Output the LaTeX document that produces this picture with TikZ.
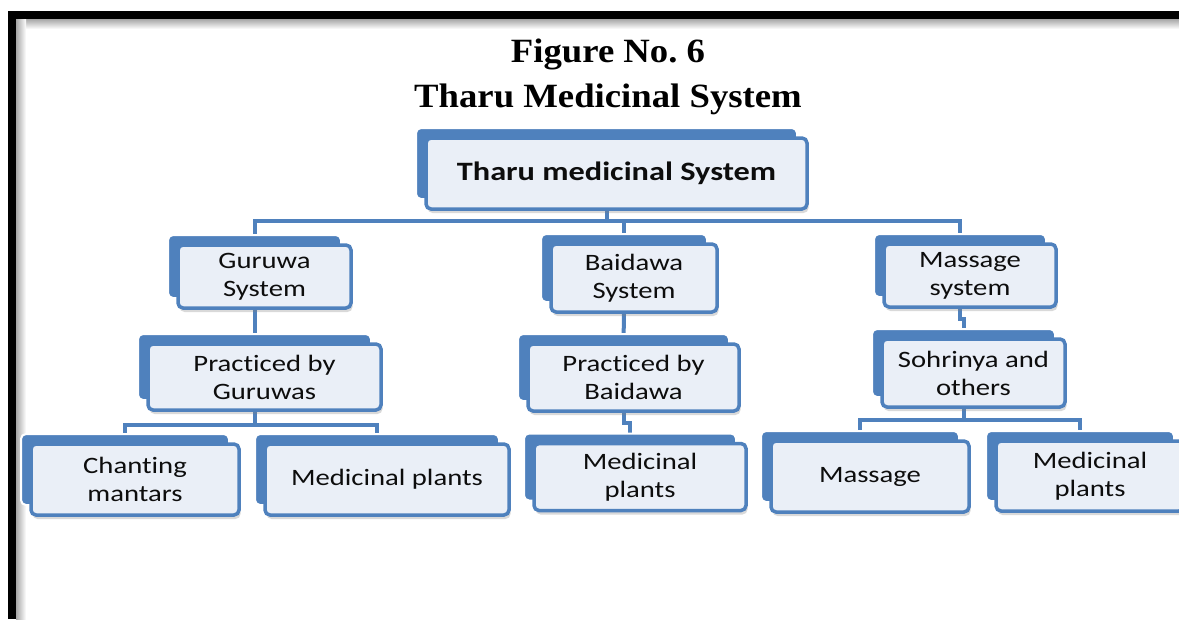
\documentclass[tikz,border=0pt]{standalone}
\usepackage{fontspec}
\setmainfont{Liberation Serif}
\newfontfamily\cardfont[FakeStretch=1.22, Ligatures=NoCommon]{Carlito}
\newfontfamily\headfont[FakeStretch=1.08]{Liberation Serif}
\usetikzlibrary{shadows,backgrounds}
\definecolor{CardBlue}{HTML}{4F81BD}
\definecolor{CardFill}{HTML}{EAEFF7}
\definecolor{CardInk}{HTML}{0D0D0D}

\begin{document}
\begin{tikzpicture}[x=1pt, y=1pt,
  card/.style={rounded corners=5pt, draw=CardBlue, line width=3.5pt, fill=CardFill,
               preaction={fill=CardBlue, draw=white, line width=2pt,
                          transform canvas={shift={(-10pt,10pt)}}},
               drop shadow={shadow xshift=1.5pt, shadow yshift=-4pt, opacity=0.3},
               align=center, inner sep=2pt, text=CardInk,
               font=\cardfont\fontsize{23.5}{28}\selectfont},
  link/.style={draw=CardBlue, line width=4pt}]
  \useasboundingbox (0,0) rectangle (1179,-619);
  % frame
  \fill[black] (8,-11) rectangle (16,-619);
  \fill[black] (8,-11) rectangle (1179,-19);
  \shade[top color=black!35, bottom color=white] (16,-19) rectangle (1179,-29);
  \shade[left color=black!35, right color=white] (16,-19) rectangle (26,-619);
  \node[font=\headfont\bfseries\fontsize{34}{45}\selectfont, align=center] (title)
       at (608,-77) {Figure No.\ 6\\Tharu Medicinal System};
  \node[card, minimum width=381pt, minimum height=71pt,
        font=\cardfont\bfseries\fontsize{26.5}{32}\selectfont] (root)
       at (616.5,-173.5) {Tharu medicinal System};
  \node[card, minimum width=173pt, minimum height=63pt] (guruwa) at (264.5,-276.5) {Guruwa\\System};
  \node[card, minimum width=166pt, minimum height=68pt] (baidawa) at (634,-278) {Baidawa\\System};
  \node[card, minimum width=172pt, minimum height=63pt] (massagesys) at (970,-275.5) {Massage\\system};
  \node[card, minimum width=233pt, minimum height=66pt] (guruwas) at (264.5,-377) {Practiced by\\Guruwas};
  \node[card, minimum width=211pt, minimum height=67pt] (baidawas) at (633.5,-377.5) {Practiced by\\Baidawa};
  \node[card, minimum width=183pt, minimum height=68pt] (sohrinya) at (973.5,-373) {Sohrinya and\\others};
  \node[card, minimum width=208pt, minimum height=71pt] (chanting) at (135,-479.5) {Chanting\\mantars};
  \node[card, minimum width=244pt, minimum height=71pt] (plantsa) at (387,-479.5) {Medicinal plants};
  \node[card, minimum width=212pt, minimum height=67pt] (plantsb) at (640,-477) {Medicinal\\plants};
  \node[card, minimum width=198pt, minimum height=71pt] (massage) at (870,-476.5) {Massage};
  \node[card, minimum width=188pt, minimum height=70pt] (plantsc) at (1090,-476) {Medicinal\\plants};
  % connectors
  \begin{pgfonlayer}{background}
    \draw[link] ([xshift=-10pt]root.south) -- ++(0,-10) -| ([xshift=-10pt]guruwa.north);
    \draw[link] ([xshift=-10pt]root.south) -- ++(0,-10) -| ([xshift=-10pt]baidawa.north);
    \draw[link] ([xshift=-10pt]root.south) -- ++(0,-10) -| ([xshift=-10pt]massagesys.north);
    \draw[link] ([xshift=-10pt]guruwa.south) -- ([xshift=-10pt]guruwas.north);
    \draw[link] ([xshift=-10pt]baidawa.south) -- ([xshift=-10pt]baidawas.north);
    \draw[link] ([xshift=-10pt]massagesys.south) -- ++(0,-10) -| ([xshift=-10pt]sohrinya.north);
    \draw[link] ([xshift=-10pt]guruwas.south) -- ++(0,-13) -| ([xshift=-10pt]chanting.north);
    \draw[link] ([xshift=-10pt]guruwas.south) -- ++(0,-13) -| ([xshift=-10pt]plantsa.north);
    \draw[link] ([xshift=-10pt]baidawas.south) -- ++(0,-10) -| ([xshift=-10pt]plantsb.north);
    \draw[link] ([xshift=-10pt]sohrinya.south) -- ++(0,-11) -| ([xshift=-10pt]massage.north);
    \draw[link] ([xshift=-10pt]sohrinya.south) -- ++(0,-11) -| ([xshift=-10pt]plantsc.north);
  \end{pgfonlayer}
\end{tikzpicture}
\end{document}
